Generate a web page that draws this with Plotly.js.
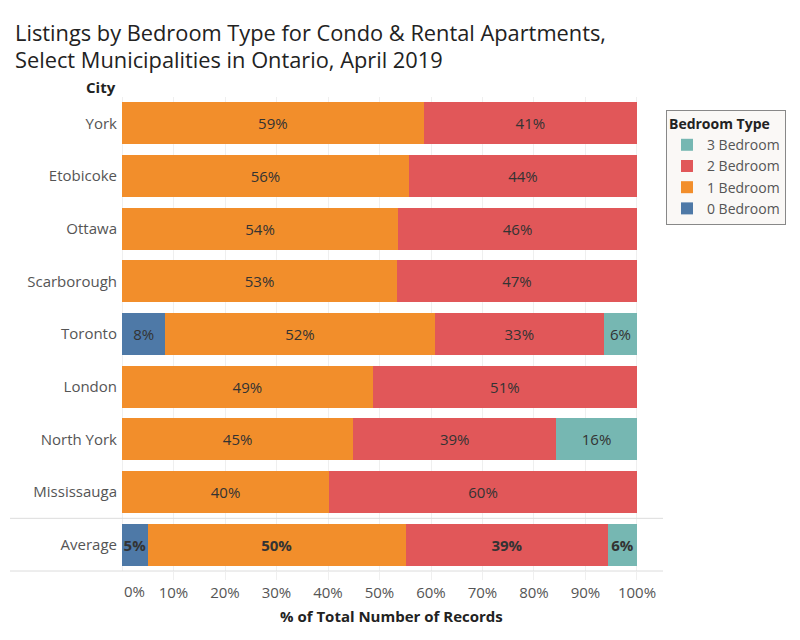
<!DOCTYPE html>
<html>
<head>
<meta charset="utf-8">
<script src="https://cdn.plot.ly/plotly-3.0.1.min.js"></script>
<style>html,body{margin:0;padding:0;background:#fff;}#chart{width:800px;height:640px;}</style>
</head>
<body>
<div id="chart"></div>
<script>
const cities = ['York','Etobicoke','Ottawa','Scarborough','Toronto','London','North York','Mississauga','Average'];
const bed0 = [0, 0, 0, 0, 8.4, 0, 0, 0, 5.0];
const bed1 = [58.6, 55.7, 53.6, 53.4, 52.3, 48.7, 44.9, 40.2, 50.1];
const bed2 = [41.4, 44.3, 46.4, 46.6, 32.9, 51.3, 39.4, 59.8, 39.3];
const bed3 = [0, 0, 0, 0, 6.4, 0, 15.7, 0, 5.6];
const seriesNames = ['0 Bedroom','1 Bedroom','2 Bedroom','3 Bedroom'];
const seriesColors = ['#4e79a7','#f28e2b','#e15759','#76b7b2'];
const xTickVals = [10,20,30,40,50,60,70,80,90,100];
const xTickText = ['10%','20%','30%','40%','50%','60%','70%','80%','90%','100%'];

const FONT = 'Open Sans, Noto Sans, sans-serif';
const series = [bed0, bed1, bed2, bed3];

const traces = series.map((vals, i) => ({
  type: 'bar',
  orientation: 'h',
  name: seriesNames[i],
  y: cities,
  x: vals,
  marker: {color: seriesColors[i], line: {width: 0}},
  text: vals.map((v, j) => v > 0 ? (cities[j] === 'Average' ? '<b>' + Math.round(v) + '%</b>' : Math.round(v) + '%') : ''),
  texttemplate: '%{text}',
  textposition: 'inside',
  insidetextanchor: 'middle',
  textangle: 0,
  constraintext: 'none',
  textfont: {family: FONT, size: 15, color: '#333'},
  hoverinfo: 'skip'
}));

const layout = {
  width: 800, height: 640,
  barmode: 'stack',
  bargap: 0.2,
  paper_bgcolor: '#fff', plot_bgcolor: '#fff',
  margin: {l: 122, r: 137, t: 97, b: 69},
  font: {family: FONT, color: '#555', size: 14},
  xaxis: {
    range: [0, 105.05],
    tickvals: xTickVals, ticktext: xTickText,
    showgrid: true, gridcolor: '#efefef', gridwidth: 1,
    zeroline: true, zerolinecolor: '#efefef', zerolinewidth: 1,
    ticks: 'outside', ticklen: 8, tickcolor: '#efefef',
    tickfont: {family: FONT, size: 15, color: '#555'},
    showline: false, fixedrange: true
  },
  yaxis: {
    type: 'category',
    autorange: 'reversed',
    tickfont: {family: FONT, size: 15, color: '#555'},
    ticks: '', showgrid: false, zeroline: false, showline: false,
    ticklabelstandoff: 4, fixedrange: true
  },
  legend: {
    x: 1.0055, xanchor: 'left', y: 0.9726, yanchor: 'top',
    traceorder: 'reversed',
    bgcolor: '#faf8f6', bordercolor: '#888', borderwidth: 1,
    font: {family: FONT, size: 14, color: '#555'},
    title: {text: '<b>Bedroom Type</b>', font: {family: FONT, size: 14, color: '#222'}},
    itemclick: false, itemdoubleclick: false
  },
  shapes: [
    {type: 'line', xref: 'paper', yref: 'y', x0: -0.207, x1: 1, y0: 7.5, y1: 7.5, line: {color: '#dcdcdc', width: 1}},
    {type: 'line', xref: 'paper', yref: 'paper', x0: -0.207, x1: 1, y0: 0, y1: 0, line: {color: '#dcdcdc', width: 1}}
  ],
  annotations: [
    {text: 'Listings by Bedroom Type for Condo & Rental Apartments,', xref: 'paper', yref: 'paper', x: -0.2015, y: 1.1371, xanchor: 'left', yanchor: 'middle', showarrow: false, font: {family: FONT, size: 21.8, color: '#222'}},
    {text: 'Select Municipalities in Ontario, April 2019', xref: 'paper', yref: 'paper', x: -0.2015, y: 1.0781, xanchor: 'left', yanchor: 'middle', showarrow: false, font: {family: FONT, size: 21.8, color: '#222'}},
    {text: '<b>City</b>', xref: 'paper', yref: 'paper', x: -0.008, y: 1, xanchor: 'right', yanchor: 'bottom', yshift: -2, showarrow: false, font: {family: FONT, size: 15, color: '#222'}},
    {text: '0%', xref: 'x', yref: 'paper', x: 0, y: 0, xanchor: 'left', yanchor: 'top', yshift: -8, showarrow: false, font: {family: FONT, size: 15, color: '#555'}},
    {text: '<b>% of Total Number of Records</b>', xref: 'x', yref: 'paper', x: 52.4, y: 0, xanchor: 'center', yanchor: 'top', yshift: -33, showarrow: false, font: {family: FONT, size: 15, color: '#222'}}
  ]
};

Plotly.newPlot('chart', traces, layout, {displayModeBar: false, staticPlot: true});
</script>
</body>
</html>
